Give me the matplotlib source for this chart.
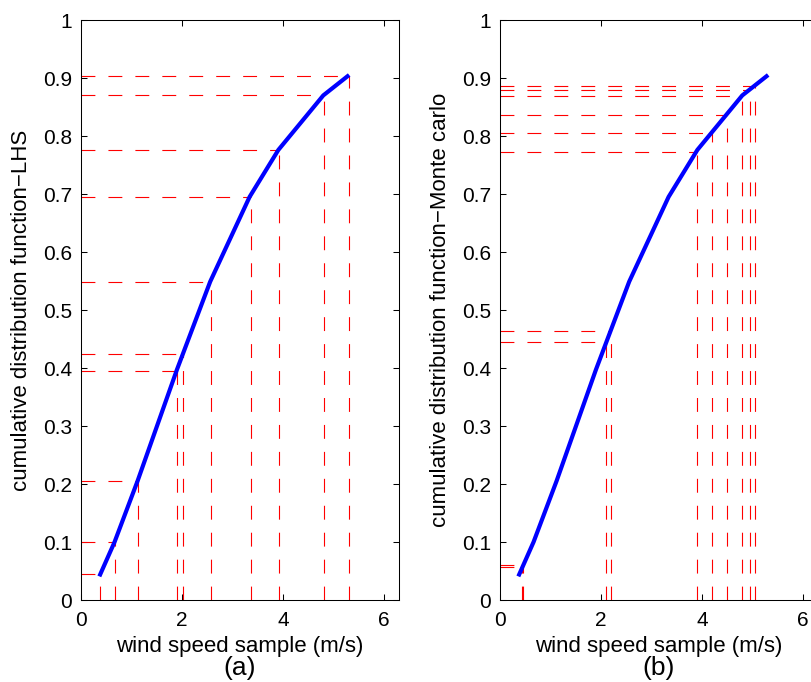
import matplotlib
matplotlib.use("Agg")
import matplotlib.pyplot as plt

plt.rcParams['font.family'] = ['Liberation Sans', 'DejaVu Sans']
plt.rcParams['lines.scale_dashes'] = False

# CDF curve of wind speed (same in both panels)
cdf_speed = [0.38, 0.665, 1.12, 1.90, 2.56, 3.34, 3.91, 4.80, 5.28]
cdf_prob = [0.044, 0.100, 0.205, 0.397, 0.549, 0.695, 0.776, 0.870, 0.903]

# LHS samples (panel a)
lhs_speed = [0.38, 0.665, 1.12, 1.90, 2.02, 2.58, 3.36, 3.93, 4.82, 5.30]
lhs_prob = [0.044, 0.100, 0.205, 0.395, 0.424, 0.549, 0.695, 0.776, 0.870, 0.904]

# Monte carlo samples (panel b)
mc_speed = [0.44, 0.46, 2.10, 2.20, 3.90, 4.20, 4.50, 4.80, 4.95, 5.05]
mc_prob = [0.057, 0.061, 0.444, 0.464, 0.773, 0.806, 0.837, 0.869, 0.880, 0.887]

xticks = [0, 2, 4, 6]
yticks = [0, 0.1, 0.2, 0.3, 0.4, 0.5, 0.6, 0.7, 0.8, 0.9, 1]
ytick_labels = ['0', '0.1', '0.2', '0.3', '0.4', '0.5', '0.6', '0.7', '0.8', '0.9', '1']

W, H = 811, 682
fig = plt.figure(figsize=(W / 100, H / 100), dpi=100)

panels = [
    (81, lhs_speed, lhs_prob, 'cumulative distribution function\u2212LHS', '(a)'),
    (500, mc_speed, mc_prob, 'cumulative distribution function\u2212Monte carlo', '(b)'),
]

for left_px, xs, ys, ylab, tag in panels:
    ax = fig.add_axes([left_px / W, (H - 600) / H, 318 / W, 580 / H])
    for x, y in zip(xs, ys):
        ax.plot([x, x], [0, y], color='red', lw=0.8, dashes=(10, 9.4))
        ax.plot([0, x], [y, y], color='red', lw=0.8, dashes=(10, 9.4))
    ax.plot(cdf_speed, cdf_prob, color='blue', lw=3, zorder=5)
    ax.set_xlim(0, 6.3)
    ax.set_ylim(0, 1)
    ax.set_xticks(xticks)
    ax.set_yticks(yticks)
    ax.set_yticklabels(ytick_labels)
    ax.tick_params(direction='in', length=4.3, width=0.75, top=True, right=True,
                   labelsize=15)
    ax.tick_params(axis='x', pad=8)
    ax.tick_params(axis='y', pad=6.5)
    for sp in ax.spines.values():
        sp.set_linewidth(0.75)
    ax.set_xlabel('wind speed sample (m/s)', fontsize=16)
    ax.xaxis.set_label_coords(0.5, -0.062)
    ax.set_ylabel(ylab, fontsize=16)
    ax.yaxis.set_label_coords(-0.155, 0.5)
    fig.text((left_px + 159) / W, 1 - 675 / H, tag, fontsize=19,
             ha='center', va='baseline')

fig.savefig('out.png', dpi=100)
